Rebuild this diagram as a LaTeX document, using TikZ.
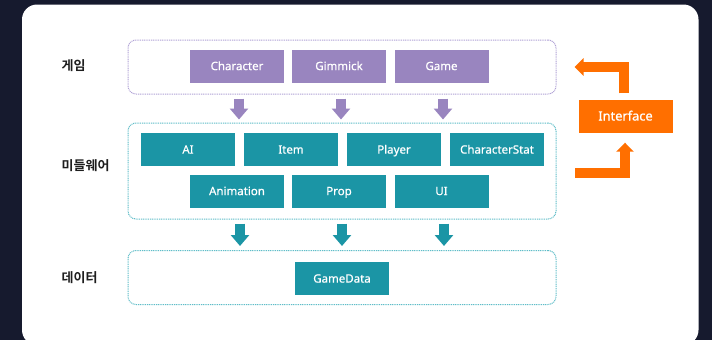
\documentclass[tikz,border=0pt]{standalone}
\usepackage{fontspec}
\setmainfont{Noto Sans}
\newfontfamily\boxfont{Noto Sans}[FakeBold=0.6]
\newfontfamily\kofont{Noto Sans CJK KR}[BoldFont={* Bold}]
\usetikzlibrary{arrows.meta,calc}
\definecolor{bgnavy}{HTML}{161A2E}
\definecolor{gpurple}{HTML}{9985BF}
\definecolor{gpurpleline}{HTML}{B0A2D6}
\definecolor{mteal}{HTML}{1B95A5}
\definecolor{mtealline}{HTML}{5FBDC8}
\definecolor{iorange}{HTML}{FF6F00}
\definecolor{labeldark}{HTML}{1E1E1E}
\tikzset{
  groupbox/.style={draw, rounded corners=8pt, line width=1pt, dash pattern=on 1pt off 0.8pt, inner sep=0pt},
  basebox/.style={text=white, minimum width=94pt, minimum height=33pt, inner sep=0pt, text height=8.2pt, text depth=0pt, font=\boxfont\fontsize{11.5}{13}\selectfont},
  gamebox/.style={basebox, fill=gpurple},
  midbox/.style={basebox, fill=mteal},
  ifbox/.style={basebox, fill=iorange, text height=9pt, font=\boxfont\fontsize{12.8}{14}\selectfont},
  layerlabel/.style={text=labeldark, anchor=west, inner sep=0pt, font=\kofont\bfseries\fontsize{13}{15}\selectfont},
  parrow/.style={draw=gpurple, line width=10.7pt, -{Triangle[width=18pt,length=11pt]}},
  tarrow/.style={draw=mteal, line width=10.7pt, -{Triangle[width=18pt,length=11pt]}},
  oarrow/.style={draw=iorange, line width=9.5pt, line join=miter, -{Triangle[width=17pt,length=9pt]}},
}
\begin{document}
\begin{tikzpicture}[x=1pt,y=-1pt]
\useasboundingbox (0,0) rectangle (712,340);
\fill[bgnavy] (0,0) rectangle (712,340);
\fill[white, rounded corners=15pt] (22,4.5) rectangle (698.5,345);

% groups
\node[groupbox, draw=gpurpleline, minimum width=428pt, minimum height=54pt] (gamegrp) at (342,67) {};
\node[groupbox, draw=mtealline, minimum width=428pt, minimum height=96pt] (midgrp) at (342,171) {};
\node[groupbox, draw=mtealline, minimum width=428pt, minimum height=54pt] (datagrp) at (342,277.5) {};

% labels
\node[layerlabel] (lgame) at (61.5,66) {게임};
\node[layerlabel] (lmid) at (61.5,166) {미들웨어};
\node[layerlabel] (ldata) at (61.5,278) {데이터};

% game boxes
\node[gamebox] (character) at (237,66) {Character};
\node[gamebox] (gimmick) at (339,66) {Gimmick};
\node[gamebox] (game) at (441.5,66) {Game};

% middleware boxes
\node[midbox] (ai) at (188,149.5) {AI};
\node[midbox] (item) at (291,149.5) {Item};
\node[midbox] (player) at (394,149.5) {Player};
\node[midbox] (charstat) at (497,149.5) {CharacterStat};
\node[midbox] (animation) at (237,191) {Animation};
\node[midbox] (prop) at (339,191) {Prop};
\node[midbox] (ui) at (441.5,191) {UI};

% data
\node[midbox] (gamedata) at (342,278.5) {GameData};

% interface
\node[ifbox] (interface) at (625.5,116) {Interface};

% purple arrows
\foreach \n/\dx in {character/2, gimmick/2, game/1.5}{
  \draw[parrow] ($(gamegrp.south -| \n)+(\dx,4)$) -- ($(midgrp.north -| \n)+(\dx,-3)$);
}
% teal arrows
\foreach \n/\dx in {animation/3, prop/3, ui/2.5}{
  \draw[tarrow] ($(midgrp.south -| \n)+(\dx,4)$) -- ($(datagrp.north -| \n)+(\dx,-4)$);
}

% orange arrows
\coordinate (otop) at (574.5,67);
\coordinate (obot) at (575,173);
\draw[oarrow] ($(interface.north)+(-1.5,-6)$) |- (otop);
\draw[oarrow] (obot) -| ($(interface.south)+(-0.5,10)$);
\end{tikzpicture}
\end{document}
